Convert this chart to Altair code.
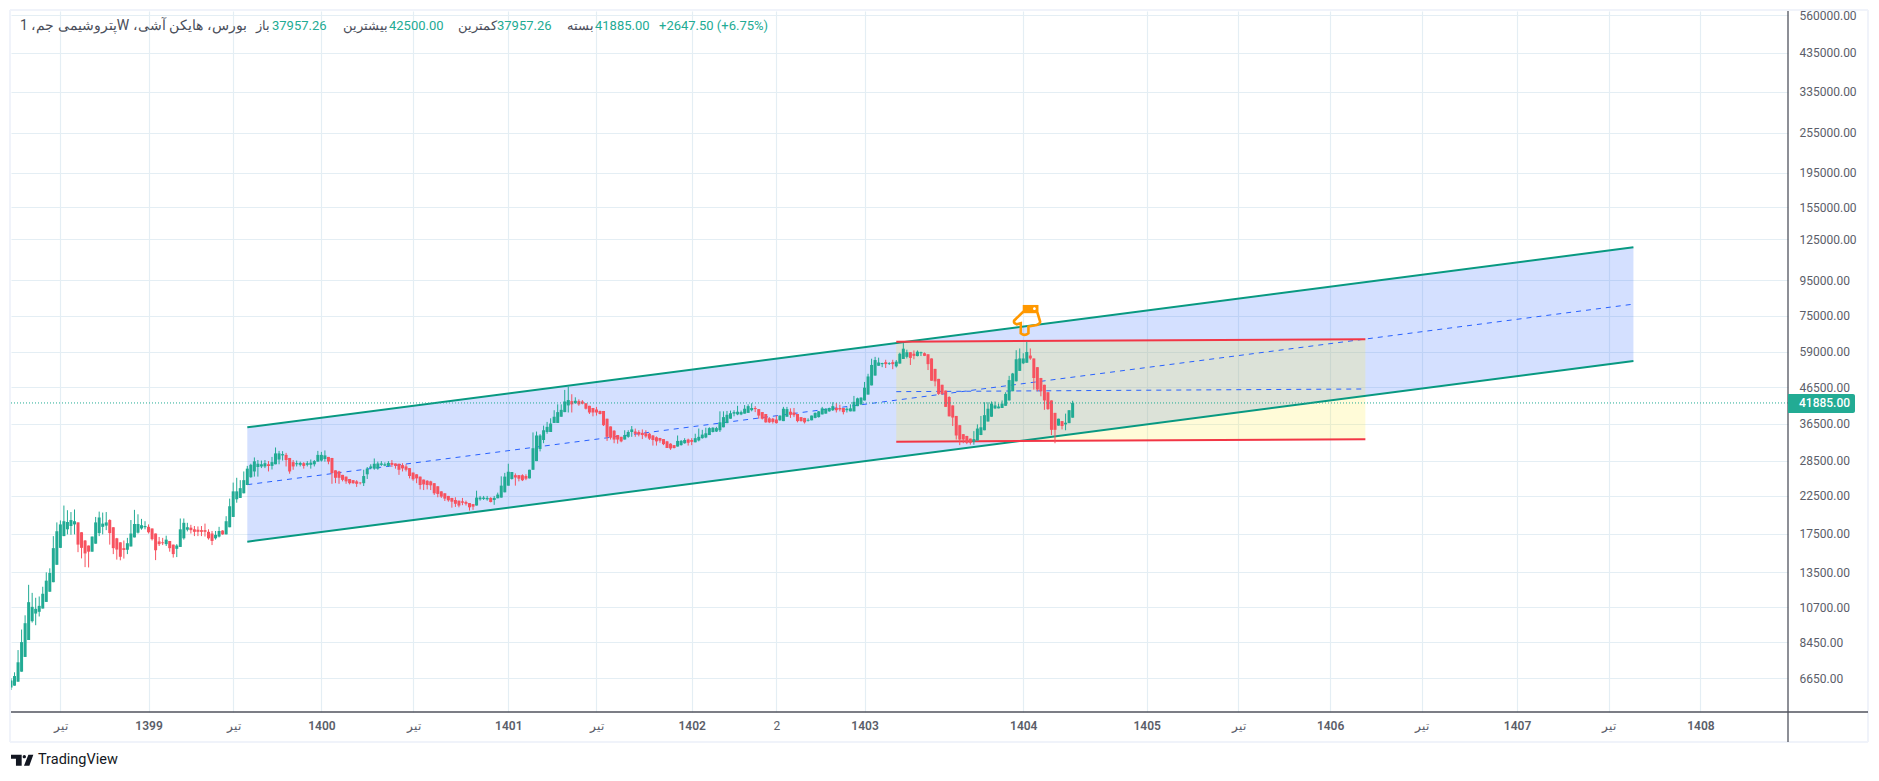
import json
import altair as alt
import pandas as pd

opens = [6250,6330,6500,6950,7670,8590,9740,10250,10370,10600,11080,11860,12640,14200,15900,17200,18000,18400,18600,18850,
17650,16700,16150,15500,16350,17550,18300,18450,19150,18250,16950,16500,15870,15700,16050,17050,17600,18100,18250,18300,
18100,17500,16600,16500,16300,16650,16250,15800,16000,16950,17950,18200,18000,17950,17900,17900,17700,17500,16950,17150,
17850,17400,18250,19550,22000,22200,22900,24200,25500,26500,27300,27400,27400,27800,27500,27800,28700,29500,29600,29000,
28200,27800,27700,28000,27700,27700,27800,28300,28500,28800,29200,29000,26700,26500,25900,25600,25200,25000,24800,24600,
24500,26000,27100,27000,27000,27700,27550,27500,28050,27950,27900,27650,27400,27100,26300,26000,25600,25100,24900,24800,
24500,24000,23200,22900,22500,22200,21900,21800,21700,21600,21450,21300,21100,22000,22050,22000,22200,21900,22150,22250,
23050,24100,25200,25850,25850,25850,25700,25300,26800,28400,30800,32700,34500,34500,36650,36650,38200,39400,41200,42400,
41800,42400,42300,41800,41100,40500,40100,39700,39700,37700,35800,34800,33800,33400,32800,33400,34500,34600,34500,34300,
34200,34100,33700,33300,33150,32900,32400,31900,31600,31300,31600,32000,32800,32700,32200,32600,33100,33250,33800,34500,
34600,34900,35600,36600,37700,39000,38800,38800,39000,39200,39900,40500,40200,39400,38900,37800,37700,37500,37300,37100,
38200,39500,39300,38900,38100,37900,37200,37300,37900,38100,38800,39000,39600,39900,40500,40500,40500,39900,39600,39600,
41000,41500,42600,44300,47100,50300,53700,54300,55000,54400,55000,53500,54500,56200,57000,58800,58200,57300,58400,58400,
58000,56400,52600,49200,47300,45500,43600,41200,38400,36100,34000,33600,33000,32300,32600,33800,34900,37000,38200,40400,
40400,40500,41100,42600,45300,48400,51900,54600,54800,57500,56400,53200,49500,47300,45000,42600,39200,36000,37100,36300,
36600,37957.26]
highs = [6650,6920,8030,9210,10130,12420,11770,11390,11490,12260,13500,13870,17200,18850,19100,21100,20450,20200,20550,18850,
17650,16750,16150,17150,19550,20260,20130,20200,19250,18250,17000,16500,16700,17000,19150,20500,19900,19300,19000,18600,
18100,17500,17100,17000,17250,16650,16250,16300,19350,19350,18800,18550,18400,18350,18400,18700,18000,17800,17800,18300,
17900,19650,22100,24600,25400,25000,26500,27500,27900,29100,28600,28500,28600,28400,29200,31100,30400,30350,30000,29000,
28600,28500,28300,28200,28400,28700,28600,30400,30200,30500,29200,29000,26700,26600,25900,25600,25200,25000,25000,24650,
26800,27300,27800,28900,28300,28400,28150,28400,28600,27950,27900,28000,27800,27100,26300,26000,25600,25100,25000,24900,
24500,24000,23200,22900,22500,22200,22300,21800,22200,21800,21450,21300,23300,22500,22500,22500,22300,22500,23000,25650,
26250,27900,26400,26150,25850,26000,26000,26800,34400,34600,34000,36000,36900,37800,39900,41500,41500,45700,46700,44400,
43500,42900,42700,41800,41100,40500,40800,39800,39700,37700,35800,34900,33800,33400,34900,34900,35900,35300,34900,35100,
34900,34300,33800,33500,33150,32900,32500,32000,31600,33700,32700,33100,33000,33100,34100,35300,35000,35500,35600,35600,
35700,39600,39600,39700,39800,39900,41100,39800,41300,41500,41800,41000,40200,39400,38900,38100,37900,38500,38500,40800,
40800,40400,40500,38900,38100,37900,37800,38500,39300,39700,40800,40400,40600,42100,41900,41400,40500,40700,41500,43900,
43400,43500,48200,50900,56300,57000,56700,54800,55900,55000,55900,55800,58600,62500,59800,58800,59500,59500,59000,58700,
58000,56400,52600,49200,47300,45500,43800,41200,38400,36100,34000,33600,33000,34700,36300,38400,42100,42100,42300,42300,
41700,42600,45000,50200,51200,59600,60300,58400,63000,60300,56400,53200,49500,47300,45000,42600,39200,37700,37100,39000,
39900,42500]
lows = [6150,6330,6500,6950,7670,8590,9650,9480,10050,10600,11080,11860,12640,14200,15900,17200,17400,17350,17400,15450,
14820,13980,13950,15500,16350,17200,17400,17900,16250,15250,14700,14630,14800,15250,16050,17050,17500,17950,18000,17500,
16700,14650,16100,16200,16100,15500,14900,14950,16000,16800,17750,17500,17200,17200,17200,17150,16800,16200,16800,17050,
17350,17400,18250,19550,21500,22200,22900,24200,25400,25600,25600,27100,27100,26500,26850,27800,27800,28500,27400,26100,
26800,27400,27400,27000,27400,27000,27400,28300,28300,28300,27800,24400,24500,24400,24800,24400,24300,24400,23900,24300,
24040,25200,26900,26800,26800,27500,27450,27300,27300,27000,25900,26500,26500,25300,24900,24500,23500,23400,23500,23400,
22650,22300,22200,21750,21650,20800,20900,20850,21150,21100,20400,20500,21100,21800,21900,21800,21550,21200,22150,22250,
23050,24100,25100,24100,24800,24850,25000,25300,26800,28400,30300,32000,34100,34500,36650,36650,38200,39400,39300,39300,
41700,41100,41500,40100,38900,38300,38500,38800,35900,32500,32800,32000,31900,32200,32800,33200,33400,33400,33500,32900,
33200,32700,31500,31500,32100,31600,31000,30600,30900,31300,31500,31900,31500,31600,32200,32400,33000,33100,33800,34400,
34500,34500,35600,36600,37700,38300,38600,38600,39000,39200,39600,39400,37700,37500,36700,36600,36500,36500,37200,37100,
38200,37900,38100,36800,37000,36500,37000,37300,37800,38000,38800,39000,39500,39700,39300,39600,38800,39300,39600,39600,
41000,41300,42600,44300,47100,50300,53700,53200,52900,54000,52500,53100,54500,56200,56400,54000,56100,57200,57300,57300,
52200,48600,46800,44200,44200,40800,38300,35900,32800,31600,32000,31800,31700,31700,32600,33800,34900,37000,38200,40200,
40400,40500,41100,42600,45300,48400,51900,54300,54800,55900,45800,45300,43800,40000,40000,33800,32000,36000,35100,34900,
36600,37957.26]
closes = [6550,6750,7400,8470,9610,11060,10720,10580,10790,11700,12770,13440,15870,17770,18600,19000,18900,19150,19000,16250,
15900,15320,15500,17150,18850,19480,18700,18850,17550,15870,15720,14980,15680,16400,17500,18650,18650,18500,18400,17650,
16850,15650,16300,16400,16800,15870,15250,16150,18000,18800,18250,17900,17700,17700,17700,17700,16950,16650,17350,17800,
17400,19000,21000,23200,23200,23700,25000,27000,27700,28350,27900,27800,28000,27500,28200,29900,29900,29750,28600,26500,
27400,28000,28050,27500,28000,28100,28400,29600,29600,29500,28300,26200,25400,25400,25050,24800,24500,24500,24400,24500,
25700,27000,27400,27900,27950,27950,27800,28050,27700,27500,26800,27050,26800,25700,25150,25300,24200,24300,24200,24150,
22900,22800,22400,22100,21850,21650,21350,21100,21500,21350,20850,20950,22250,22250,22250,22200,21600,22200,22700,24100,
25600,26450,26400,25450,25250,25000,25250,26800,30950,33700,33700,34900,35700,36500,38200,39400,40000,42300,42700,41500,
42500,41500,41700,40300,39300,39300,39300,38900,36100,33400,33200,32800,32800,32400,33800,34500,35100,34100,33900,33800,
33500,33000,32700,32400,32550,31800,31000,30900,31000,32500,32500,32700,32100,32300,33100,33400,33900,34200,35400,35500,
35400,36800,38100,38700,39100,39400,39500,39400,40300,41000,40500,40200,38500,37700,36800,36800,36900,36600,38500,40300,
40200,38700,38600,37100,37100,36800,37400,38500,39200,39600,40400,40300,40500,41000,39900,40100,39400,40300,40400,42200,
43200,43400,46400,50000,54000,55800,54900,54700,54300,54700,54300,55200,58200,60200,58800,56600,57400,59000,58800,57400,
54300,48600,48400,44500,44500,40800,38300,38000,33700,32800,32800,32100,32100,32900,35300,35600,38600,40300,41700,41200,
40900,41700,44500,48800,51000,56100,56400,56400,58900,56400,49500,45800,45300,42600,40200,35000,35000,37700,35900,36700,
39900,41885]

price_ticks = [560000,435000,335000,255000,195000,155000,125000,95000,75000,59000,46500,36500,28500,22500,17500,13500,10700,8450,6650]
time_ticks = [14,39,63,88,114,141,166,193,217,242,287,322,348,374,400,427,453,479]
TIR = "تیر"
time_labels = [TIR,"1399",TIR,"1400",TIR,"1401",TIR,"1402","2","1403","1404","1405",TIR,"1406",TIR,"1407",TIR,"1408"]
year_ticks = [t for t, l in zip(time_ticks, time_labels) if l.startswith("1")]

channel_x = [67, 460]
channel_upper = [35600, 118570]
channel_lower = [16570, 55460]
channel_mid = [24260, 81080]
range_x = [251, 384]
range_upper = [63100, 64100]
range_lower = [32330, 32860]
range_mid = [45170, 45990]
last_price = 41885
hand_x = [288]
hand_y = [72950]

title_text = ["\u202Bبورس، هایکن آشی، Wپتروشیمی جم، 1\u202C"]
header_text = ["باز", "37957.26", "بیشترین", "42500.00", "کمترین", "37957.26", "بسته", "41885.00", "+2647.50 (+6.75%)"]
header_px = [259, 261, 377, 378, 486, 486, 583, 584, 648]
header_align = ["right", "left", "right", "left", "right", "left", "right", "left", "left"]
header_green = [False, True, False, True, False, True, False, True, True]

GREEN, RED = "#22ab94", "#f7525f"
TEAL = "#089981"
GRID = "#e4eef4"
AXIS = "#50535e"
TXT = "#5b5e69"
FONT = "Roboto, Noto Sans, sans-serif"

N = len(closes)
candles = pd.DataFrame({"i": list(range(N)), "o": opens, "h": highs, "l": lows, "c": closes})
candles["dir"] = ["up" if c >= o else "down" for o, c in zip(opens, closes)]
channel = pd.DataFrame({"i": channel_x, "u": channel_upper, "lo": channel_lower, "m": channel_mid})
rng = pd.DataFrame({"i": range_x, "u": range_upper, "lo": range_lower, "m": range_mid})
one = pd.DataFrame({"a": [0]})
lastp = pd.DataFrame({"p": [last_price], "t": [f"{last_price:.2f}"]})
hand = pd.DataFrame({"i": hand_x, "p": hand_y})

xs = alt.Scale(domain=[0, 1777 / 3.527], nice=False, zero=False, padding=0)
ys = alt.Scale(type="log", domain=[5308, 575300], nice=False, padding=0)
color = alt.Color("dir:N", scale=alt.Scale(domain=["up", "down"], range=[GREEN, RED]), legend=None)

label_map = json.dumps({str(t): l for t, l in zip(time_ticks, time_labels)}, ensure_ascii=False)

x_axis = alt.Axis(
    values=time_ticks, title=None, grid=True, gridColor=GRID, gridWidth=1.2, domain=False, ticks=False,
    labelExpr=f"{label_map}[datum.value]", labelFont=FONT, labelFontSize=12, labelColor=TXT,
    labelPadding=8, labelOverlap=False, labelFlush=False,
    labelFontWeight={"expr": f"indexof({json.dumps(year_ticks)}, datum.value) >= 0 ? 600 : 400"},
)
y_axis = alt.Axis(
    orient="right", values=price_ticks, format=".2f", title=None, grid=True, gridColor=GRID, gridWidth=1.2,
    domain=False, ticks=False, labelFont=FONT, labelFontSize=12, labelColor=TXT, labelPadding=11, labelOverlap=False,
)
X = lambda f: alt.X(f, scale=xs, axis=x_axis)
Y = lambda f: alt.Y(f, scale=ys, axis=y_axis)

channel_fill = alt.Chart(channel).mark_area(color="#2962ff", opacity=0.2).encode(x=X("i:Q"), y=Y("u:Q"), y2="lo:Q")
range_fill = alt.Chart(rng).mark_area(color="#ffeb3b", opacity=0.2).encode(x=X("i:Q"), y=Y("u:Q"), y2="lo:Q")
def line(df, f, c, w, dash=None):
    kw = {"strokeDash": dash} if dash else {}
    return alt.Chart(df).mark_line(color=c, strokeWidth=w, **kw).encode(x=X("i:Q"), y=Y(f"{f}:Q"))

wicks = alt.Chart(candles).mark_rule(strokeWidth=1, clip=True).encode(x=X("i:Q"), y=Y("l:Q"), y2="h:Q", color=color)
bodies = alt.Chart(candles).mark_bar(size=3, orient="vertical", clip=True).encode(x=X("i:Q"), y=Y("o:Q"), y2="c:Q", color=color)

price_line = alt.Chart(lastp).mark_rule(color=GREEN, strokeWidth=1, strokeDash=[1, 2]).encode(x=alt.value(0), x2=alt.value(1777), y=Y("p:Q"))
price_box = alt.Chart(one).mark_rect(color=GREEN, cornerRadiusTopRight=2, cornerRadiusBottomRight=2).encode(
    x=alt.value(1777), x2=alt.value(1844), y=alt.value(383), y2=alt.value(402))
price_text = alt.Chart(lastp).mark_text(color="white", font=FONT, fontSize=12, fontWeight=500, align="left", baseline="middle").encode(
    x=alt.value(1788), y=Y("p:Q"), text="t:N")

HAND = "M-.22,-.56 L-.84,.04 Q-.9,.2 -.67,.29 L-.4,.22 L-.4,.89 Q-.15,1.1 .11,.89 L.11,.44 L.67,.33 Q.9,.25 .89,.11 L.71,-.49"
CUFF = "M-.27,-1 H.78 V-.45 H-.27 Z"
DOT = "M.42,-.75 A.09,.09 0 1 0 .6,-.75 A.09,.09 0 1 0 .42,-.75 Z"
hand_out = alt.Chart(hand).mark_point(shape=HAND, size=900, filled=False, color="#ff9800", strokeWidth=2.6, opacity=1).encode(x=X("i:Q"), y=Y("p:Q"))
hand_cuff = alt.Chart(hand).mark_point(shape=CUFF, size=900, filled=True, color="#ff9800", strokeWidth=1.5, opacity=1).encode(x=X("i:Q"), y=Y("p:Q"))
hand_dot = alt.Chart(hand).mark_point(shape=DOT, size=900, filled=True, color="white", strokeWidth=0, opacity=1).encode(x=X("i:Q"), y=Y("p:Q"))

def rule(x, x2, y, y2, c, w):
    return alt.Chart(one).mark_rule(color=c, strokeWidth=w).encode(
        x=alt.value(x), x2=alt.value(x2), y=alt.value(y), y2=alt.value(y2))

frame = [rule(-1, 1857, -1, -1, "#f0f3fa", 2), rule(-1, 1857, 731, 731, "#f0f3fa", 2),
         rule(-1, -1, -1, 731, "#f0f3fa", 2), rule(1857, 1857, -1, 731, "#f0f3fa", 2),
         rule(0, 1857, 701, 701, AXIS, 1.3), rule(1777, 1777, 0, 731, AXIS, 1.3)]

hdr = pd.DataFrame({"t": header_text, "px": header_px, "a": header_align, "g": header_green})
hdr_layers = [alt.Chart(pd.DataFrame({"t": title_text})).mark_text(color="#4a4e5a", font=FONT, fontSize=14, align="left", baseline="middle").encode(
    x=alt.value(9), y=alt.value(15), text="t:N")]
for a in ["left", "right"]:
    for g, col in [(True, GREEN), (False, "#4a4e5a")]:
        sub = hdr[(hdr.a == a) & (hdr.g == g)]
        if len(sub):
            hdr_layers.append(alt.Chart(sub).mark_text(color=col, font=FONT, fontSize=13, align=a, baseline="middle").encode(
                x=alt.X("px:Q", scale=None), y=alt.value(15), text="t:N"))

LOGO = "M-1,-.48 H-.03 V.52 H-.55 V-.12 H-1 Z M.06,-.3 A.15,.15 0 1 0 .36,-.3 A.15,.15 0 1 0 .06,-.3 Z M.58,-.48 H1.03 L.67,.52 H.18 Z"
logo = alt.Chart(one).mark_point(shape=LOGO, size=484, filled=True, color="#131722", strokeWidth=0, opacity=1).encode(x=alt.value(11), y=alt.value(749))
logo_text = alt.Chart(pd.DataFrame({"t": ["TradingView"]})).mark_text(color="#131722", font="Roboto", fontSize=14.5, align="left", baseline="middle").encode(
    x=alt.value(27), y=alt.value(749), text="t:N")

chart = alt.layer(
    channel_fill, range_fill,
    line(channel, "m", "#2962ff", 1, [5, 5]), line(rng, "m", "#2962ff", 1, [5, 5]),
    line(channel, "u", TEAL, 2), line(channel, "lo", TEAL, 2),
    line(rng, "u", "#f23645", 2), line(rng, "lo", "#f23645", 2),
    wicks, bodies, price_line, *frame, price_box, price_text, hand_out, hand_cuff, hand_dot, *hdr_layers, logo, logo_text,
).resolve_scale(color="independent").properties(
    width=1777, height=701,
    padding={"left": 3, "top": 3, "right": 82, "bottom": 60},
    autosize=alt.AutoSizeParams(type="none"),
    background="white",
).configure_view(strokeWidth=0)

chart.save("out.html", embed_options={"renderer": "svg", "actions": False})
